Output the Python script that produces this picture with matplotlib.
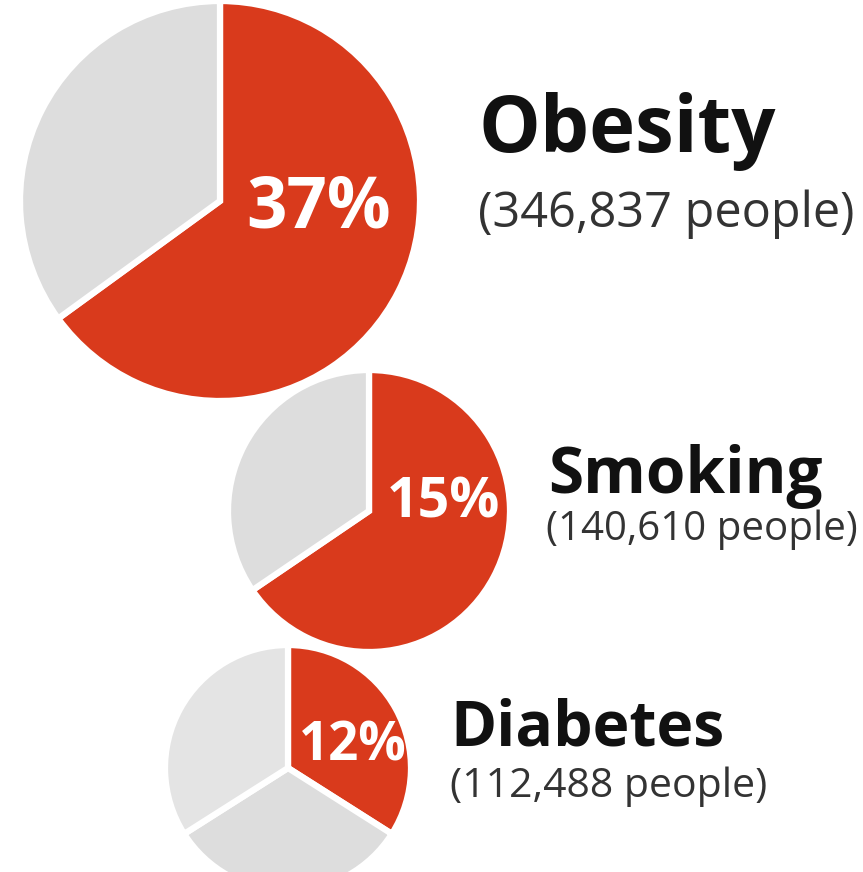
import matplotlib.pyplot as plt

# risk factors, share labels and head counts
conditions = ["Obesity", "Smoking", "Diabetes"]
percent = [37, 15, 12]
people = [346837, 140610, 112488]

# wedge shares as drawn (red first, clockwise from 12 o'clock)
obesity_wedges = [0.65, 0.35]
smoking_wedges = [0.655, 0.345]
diabetes_wedges = [0.34, 0.32, 0.34]

RED = "#d93a1c"
GREY = "#dddddd"
GREY2 = "#e4e4e4"

W, H = 863, 872

plt.rcParams['font.family'] = ['Open Sans', 'DejaVu Sans']

fig = plt.figure(figsize=(W / 100, H / 100), dpi=100)
ax = fig.add_axes([0, 0, 1, 1])

# layout in pixels from the top-left corner
centers = [(220, 201), (369, 511), (288, 768)]
radii = [200, 141, 123]
wedges = [obesity_wedges, smoking_wedges, diabetes_wedges]
colors = [[RED, GREY], [RED, GREY], [RED, GREY, GREY2]]

for (cx, cy), r, w, c in zip(centers, radii, wedges, colors):
    ax.pie(w, colors=c, center=(cx, H - cy), radius=r, startangle=90,
           counterclock=False,
           wedgeprops=dict(edgecolor="white", linewidth=4.5))

# percentage labels inside the red wedges
pct_pos = [(246, 227, 51), (387, 517, 40), (299, 760, 38)]
for p, (x, y, fs) in zip(percent, pct_pos):
    ax.text(x, H - y, f"{p}%", color="white", fontsize=fs,
            fontweight="bold", ha="left", va="baseline")

# condition names and counts
name_pos = [(478, 152, 56), (548, 493, 46), (450, 745, 45)]
count_pos = [(478, 227, 35), (546, 540, 29), (450, 797, 29.5)]
for name, n, (x, y, fs), (x2, y2, fs2) in zip(conditions, people, name_pos, count_pos):
    ax.text(x, H - y, name, color="#111111", fontsize=fs,
            fontweight="bold", ha="left", va="baseline")
    ax.text(x2, H - y2, f"({n:,} people)", color="#333333", fontsize=fs2,
            ha="left", va="baseline")

ax.set_xlim(0, W)
ax.set_ylim(0, H)
ax.axis("off")

fig.savefig("out.png", dpi=100, facecolor="white")
